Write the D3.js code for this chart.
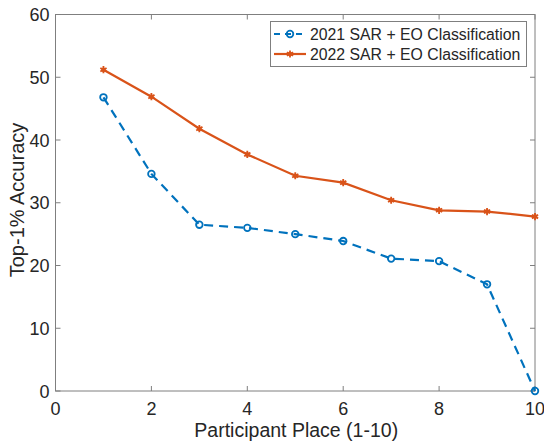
<!DOCTYPE html>
<html>
<head>
<meta charset="utf-8">
<script src="https://cdn.jsdelivr.net/npm/d3@7"></script>
<style>
body { margin: 0; background: #fff; }
text { font-family: "Liberation Sans", Arial, sans-serif; fill: #262626; }
</style>
</head>
<body>
<div class="graph"></div>
<script>
"use strict";

var places = [1, 2, 3, 4, 5, 6, 7, 8, 9, 10];
var acc2021 = [46.8, 34.6, 26.5, 26.0, 25.0, 23.9, 21.1, 20.7, 17.0, 0];
var acc2022 = [51.2, 46.9, 41.8, 37.7, 34.3, 33.2, 30.4, 28.8, 28.6, 27.8];
var xTicks = [0, 2, 4, 6, 8, 10];
var yTicks = [0, 10, 20, 30, 40, 50, 60];
var seriesNames = ["2021 SAR + EO Classification", "2022 SAR + EO Classification"];

var width = 544, height = 444;
var plotL = 55.5, plotR = 535, plotT = 14.5, plotB = 391;

var x = d3.scaleLinear().domain([0, 10]).range([plotL, plotR]);
var y = d3.scaleLinear().domain([0, 60]).range([plotB, plotT]);

var svg = d3.select('.graph').append('svg')
    .attr('width', width)
    .attr('height', height);

var axisColor = '#7f7f7f';

// box
svg.append('rect')
    .attr('x', plotL).attr('y', plotT)
    .attr('width', plotR - plotL).attr('height', plotB - plotT)
    .attr('fill', 'none').attr('stroke', axisColor).attr('stroke-width', 1);

// ticks inward on all four sides
var tl = 5;
xTicks.forEach(function(t) {
    svg.append('line').attr('x1', x(t)).attr('x2', x(t)).attr('y1', plotB).attr('y2', plotB - tl).attr('stroke', axisColor);
    svg.append('line').attr('x1', x(t)).attr('x2', x(t)).attr('y1', plotT).attr('y2', plotT + tl).attr('stroke', axisColor);
    svg.append('text')
        .attr('x', x(t)).attr('y', plotB + 24)
        .attr('text-anchor', 'middle')
        .attr('font-size', '18px')
        .text(t);
});
yTicks.forEach(function(t) {
    svg.append('line').attr('x1', plotL).attr('x2', plotL + tl).attr('y1', y(t)).attr('y2', y(t)).attr('stroke', axisColor);
    svg.append('line').attr('x1', plotR).attr('x2', plotR - tl).attr('y1', y(t)).attr('y2', y(t)).attr('stroke', axisColor);
    svg.append('text')
        .attr('x', plotL - 6).attr('y', y(t) + 6.5)
        .attr('text-anchor', 'end')
        .attr('font-size', '18px')
        .text(t);
});

// axis labels
svg.append('text')
    .attr('x', (plotL + plotR) / 2 + 1).attr('y', 437)
    .attr('text-anchor', 'middle')
    .attr('font-size', '19.5px')
    .text('Participant Place (1-10)');

svg.append('text')
    .attr('transform', 'translate(24,200) rotate(-90)')
    .attr('text-anchor', 'middle')
    .attr('font-size', '20px')
    .text('Top-1% Accuracy');

var line = d3.line()
    .x(function(d, i) { return x(places[i]); })
    .y(function(d) { return y(d); });

var blue = '#0072BD', red = '#D95319';

svg.append('path')
    .datum(acc2021)
    .attr('d', line)
    .attr('fill', 'none')
    .attr('stroke', blue)
    .attr('stroke-width', 2.2)
    .attr('stroke-dasharray', '9,6');

svg.append('path')
    .datum(acc2022)
    .attr('d', line)
    .attr('fill', 'none')
    .attr('stroke', red)
    .attr('stroke-width', 2.2);

var star = d3.symbol().type(d3.symbolAsterisk).size(36);

function drawCircle(g, cx, cy) {
    g.append('circle')
        .attr('cx', cx).attr('cy', cy).attr('r', 3.3)
        .attr('fill', 'none').attr('stroke', blue).attr('stroke-width', 1.8);
}
function drawStar(g, cx, cy) {
    g.append('path')
        .attr('d', star)
        .attr('transform', 'translate(' + cx + ',' + cy + ')')
        .attr('fill', 'none').attr('stroke', red).attr('stroke-width', 1.8);
    g.append('circle')
        .attr('cx', cx).attr('cy', cy).attr('r', 2.2)
        .attr('fill', red);
}

acc2021.forEach(function(d, i) { drawCircle(svg, x(places[i]), y(d)); });
acc2022.forEach(function(d, i) { drawStar(svg, x(places[i]), y(d)); });

// legend
var lg = svg.append('g');
lg.append('rect')
    .attr('x', 270.5).attr('y', 21.5)
    .attr('width', 256).attr('height', 45)
    .attr('fill', '#fff').attr('stroke', axisColor);

var rows = [34, 54];
lg.append('line')
    .attr('x1', 274).attr('x2', 306).attr('y1', rows[0]).attr('y2', rows[0])
    .attr('stroke', blue).attr('stroke-width', 2.2).attr('stroke-dasharray', '6,5');
drawCircle(lg, 290, rows[0]);
lg.append('line')
    .attr('x1', 274).attr('x2', 306).attr('y1', rows[1]).attr('y2', rows[1])
    .attr('stroke', red).attr('stroke-width', 2.2);
drawStar(lg, 290, rows[1]);

seriesNames.forEach(function(n, i) {
    lg.append('text')
        .attr('x', 310).attr('y', rows[i] + 5.5)
        .attr('font-size', '15.8px')
        .text(n);
});
</script>
</body>
</html>
